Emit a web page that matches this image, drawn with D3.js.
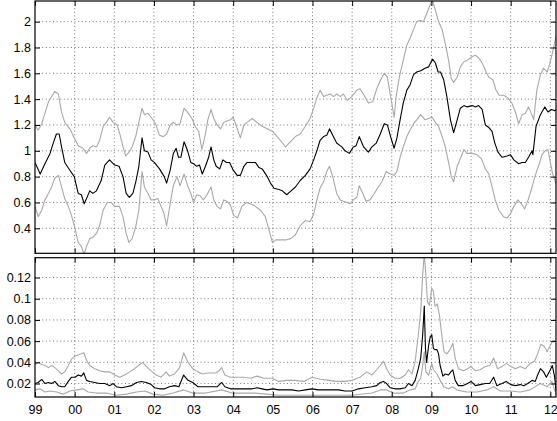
<!DOCTYPE html>
<html>
<head>
<meta charset="utf-8">
<script src="https://cdn.jsdelivr.net/npm/d3@7"></script>
<style>
  body { margin: 0; background: #fff; }
  svg { display: block; font-family: "Liberation Sans", Arial, Helvetica, sans-serif; }
  .grid line { stroke: #555; stroke-dasharray: 1,2.6; stroke-width: 0.8; }
  .ax text { font-size: 12.5px; fill: #000; }
  .ax line { stroke: #000; }
  .ax path { display: none; }
</style>
</head>
<body>
<div id="chart"></div>
<script>
// Etiquetas del eje X (años)
const years = [1999, 2000, 2001, 2002, 2003, 2004, 2005, 2006, 2007, 2008, 2009, 2010, 2011, 2012];
const yearLabels = ["99", "00", "01", "02", "03", "04", "05", "06", "07", "08", "09", "10", "11", "12"];
const topTicks = [0.4, 0.6, 0.8, 1, 1.2, 1.4, 1.6, 1.8, 2];
const botTicks = [0.02, 0.04, 0.06, 0.08, 0.1, 0.12];

// Panel superior: [año, valor]
const topMid = [[1999.00,0.91],[1999.13,0.82],[1999.25,0.90],[1999.38,0.98],[1999.46,1.06],[1999.54,1.13],[1999.61,1.13],[1999.67,1.03],[1999.75,0.91],[1999.88,0.85],[1999.99,0.80],[2000.09,0.67],[2000.17,0.66],[2000.24,0.59],[2000.30,0.63],[2000.38,0.69],[2000.46,0.67],[2000.55,0.69],[2000.67,0.77],[2000.76,0.89],[2000.88,0.93],[2001.01,0.89],[2001.12,0.88],[2001.22,0.80],[2001.30,0.67],[2001.38,0.64],[2001.47,0.67],[2001.55,0.77],[2001.62,0.88],[2001.70,1.10],[2001.76,1.00],[2001.85,0.99],[2001.93,0.93],[2002.01,0.91],[2002.14,0.86],[2002.26,0.80],[2002.32,0.75],[2002.41,0.85],[2002.49,0.98],[2002.56,1.02],[2002.62,0.95],[2002.68,0.95],[2002.76,1.07],[2002.85,1.00],[2002.93,0.91],[2003.00,0.90],[2003.08,0.88],[2003.15,0.89],[2003.22,0.82],[2003.30,0.88],[2003.38,0.95],[2003.44,1.03],[2003.51,0.93],[2003.57,0.88],[2003.66,0.86],[2003.74,0.93],[2003.83,0.91],[2003.91,0.91],[2004.00,0.85],[2004.10,0.81],[2004.18,0.81],[2004.27,0.88],[2004.35,0.91],[2004.48,0.91],[2004.56,0.91],[2004.65,0.87],[2004.73,0.86],[2004.84,0.81],[2004.94,0.75],[2005.03,0.71],[2005.15,0.70],[2005.24,0.69],[2005.35,0.66],[2005.46,0.69],[2005.57,0.72],[2005.69,0.77],[2005.82,0.81],[2005.94,0.86],[2006.03,0.93],[2006.11,1.00],[2006.19,1.08],[2006.28,1.11],[2006.36,1.12],[2006.43,1.17],[2006.51,1.12],[2006.61,1.06],[2006.74,1.03],[2006.82,1.00],[2006.93,0.98],[2007.03,1.03],[2007.10,1.04],[2007.18,1.11],[2007.29,1.03],[2007.41,0.99],[2007.50,1.03],[2007.61,1.06],[2007.71,1.13],[2007.81,1.21],[2007.89,1.20],[2007.97,1.11],[2008.06,1.02],[2008.13,1.10],[2008.21,1.24],[2008.29,1.37],[2008.38,1.47],[2008.46,1.51],[2008.55,1.59],[2008.63,1.61],[2008.73,1.62],[2008.84,1.64],[2008.93,1.65],[2009.03,1.71],[2009.10,1.68],[2009.17,1.61],[2009.23,1.61],[2009.31,1.55],[2009.39,1.42],[2009.48,1.24],[2009.56,1.14],[2009.65,1.24],[2009.73,1.33],[2009.82,1.35],[2009.90,1.34],[2010.03,1.35],[2010.11,1.34],[2010.19,1.35],[2010.28,1.32],[2010.36,1.20],[2010.45,1.18],[2010.53,1.15],[2010.60,1.06],[2010.68,0.99],[2010.78,0.95],[2010.91,0.96],[2010.99,0.97],[2011.08,0.93],[2011.20,0.90],[2011.29,0.91],[2011.37,0.91],[2011.45,0.95],[2011.54,1.00],[2011.56,0.97],[2011.64,1.19],[2011.75,1.28],[2011.86,1.34],[2011.94,1.30],[2012.03,1.32],[2012.11,1.31],[2012.15,1.32]];

const topHigh = [[1999.00,1.20],[1999.08,1.16],[1999.17,1.21],[1999.25,1.29],[1999.34,1.38],[1999.42,1.42],[1999.50,1.46],[1999.59,1.44],[1999.67,1.30],[1999.75,1.22],[1999.88,1.17],[1999.99,1.10],[2000.09,1.04],[2000.21,1.02],[2000.30,0.98],[2000.38,1.02],[2000.46,1.04],[2000.55,1.03],[2000.63,1.08],[2000.72,1.19],[2000.80,1.22],[2000.88,1.26],[2000.97,1.22],[2001.07,1.20],[2001.15,1.12],[2001.22,1.03],[2001.29,0.96],[2001.37,0.99],[2001.45,1.03],[2001.54,1.11],[2001.62,1.22],[2001.70,1.33],[2001.76,1.28],[2001.85,1.29],[2001.93,1.26],[2002.04,1.21],[2002.14,1.12],[2002.24,1.11],[2002.32,1.13],[2002.41,1.20],[2002.49,1.22],[2002.58,1.20],[2002.66,1.21],[2002.76,1.33],[2002.87,1.29],[2002.96,1.25],[2003.04,1.19],[2003.13,1.15],[2003.21,1.01],[2003.30,1.13],[2003.36,1.24],[2003.44,1.32],[2003.51,1.25],[2003.59,1.20],[2003.68,1.17],[2003.76,1.22],[2003.84,1.23],[2003.93,1.24],[2004.00,1.26],[2004.08,1.19],[2004.18,1.10],[2004.27,1.20],[2004.35,1.22],[2004.48,1.25],[2004.60,1.22],[2004.73,1.19],[2004.86,1.17],[2004.99,1.15],[2005.11,1.11],[2005.22,1.07],[2005.32,1.03],[2005.44,1.07],[2005.57,1.11],[2005.69,1.13],[2005.82,1.19],[2005.94,1.25],[2006.03,1.33],[2006.11,1.41],[2006.19,1.47],[2006.28,1.42],[2006.36,1.43],[2006.45,1.44],[2006.53,1.42],[2006.61,1.44],[2006.70,1.42],[2006.78,1.44],[2006.88,1.39],[2006.99,1.42],[2007.12,1.47],[2007.20,1.48],[2007.30,1.43],[2007.41,1.37],[2007.52,1.38],[2007.62,1.48],[2007.72,1.55],[2007.81,1.60],[2007.89,1.57],[2007.96,1.44],[2008.00,1.37],[2008.06,1.26],[2008.11,1.42],[2008.19,1.57],[2008.29,1.70],[2008.38,1.82],[2008.46,1.87],[2008.55,1.94],[2008.63,2.00],[2008.71,2.01],[2008.80,2.00],[2008.85,2.04],[2008.93,2.10],[2009.02,2.17],[2009.10,2.09],[2009.18,2.00],[2009.27,1.94],[2009.35,1.83],[2009.44,1.69],[2009.50,1.56],[2009.56,1.53],[2009.65,1.57],[2009.73,1.65],[2009.82,1.69],[2009.90,1.70],[2010.03,1.73],[2010.11,1.74],[2010.19,1.72],[2010.28,1.68],[2010.38,1.61],[2010.45,1.57],[2010.55,1.55],[2010.63,1.47],[2010.71,1.43],[2010.82,1.43],[2010.93,1.41],[2011.03,1.37],[2011.12,1.30],[2011.20,1.21],[2011.29,1.28],[2011.37,1.29],[2011.45,1.34],[2011.52,1.29],[2011.58,1.24],[2011.66,1.47],[2011.75,1.59],[2011.83,1.64],[2011.92,1.61],[2012.00,1.69],[2012.07,1.78],[2012.15,1.90]];

const topLow = [[1999.00,0.57],[1999.08,0.49],[1999.17,0.54],[1999.25,0.62],[1999.34,0.67],[1999.42,0.72],[1999.50,0.79],[1999.59,0.81],[1999.67,0.72],[1999.75,0.63],[1999.84,0.57],[1999.92,0.50],[2000.00,0.41],[2000.09,0.29],[2000.17,0.26],[2000.24,0.20],[2000.30,0.26],[2000.38,0.32],[2000.46,0.33],[2000.55,0.36],[2000.63,0.42],[2000.72,0.54],[2000.82,0.60],[2000.92,0.60],[2001.01,0.57],[2001.13,0.57],[2001.22,0.49],[2001.30,0.36],[2001.37,0.29],[2001.45,0.32],[2001.54,0.41],[2001.62,0.54],[2001.70,0.84],[2001.76,0.72],[2001.85,0.67],[2001.93,0.62],[2002.01,0.62],[2002.10,0.63],[2002.18,0.57],[2002.25,0.52],[2002.32,0.42],[2002.41,0.59],[2002.49,0.73],[2002.58,0.80],[2002.66,0.73],[2002.76,0.82],[2002.85,0.73],[2002.93,0.67],[2003.00,0.60],[2003.08,0.66],[2003.17,0.65],[2003.25,0.62],[2003.34,0.66],[2003.44,0.72],[2003.51,0.62],[2003.59,0.57],[2003.68,0.55],[2003.76,0.62],[2003.84,0.61],[2003.93,0.58],[2004.01,0.50],[2004.11,0.48],[2004.22,0.57],[2004.33,0.60],[2004.43,0.59],[2004.56,0.57],[2004.69,0.54],[2004.81,0.49],[2004.90,0.39],[2004.99,0.29],[2005.07,0.31],[2005.21,0.31],[2005.32,0.31],[2005.45,0.32],[2005.57,0.35],[2005.69,0.42],[2005.82,0.46],[2005.94,0.45],[2006.03,0.51],[2006.11,0.62],[2006.19,0.71],[2006.28,0.76],[2006.36,0.84],[2006.43,0.88],[2006.51,0.80],[2006.61,0.67],[2006.70,0.62],[2006.78,0.61],[2006.87,0.60],[2006.95,0.59],[2007.03,0.62],[2007.12,0.64],[2007.18,0.73],[2007.27,0.67],[2007.35,0.61],[2007.45,0.62],[2007.54,0.66],[2007.64,0.71],[2007.75,0.76],[2007.86,0.84],[2007.96,0.82],[2008.06,0.81],[2008.13,0.84],[2008.21,0.95],[2008.29,1.03],[2008.38,1.11],[2008.46,1.16],[2008.55,1.21],[2008.63,1.24],[2008.73,1.28],[2008.84,1.24],[2008.93,1.25],[2009.02,1.26],[2009.10,1.22],[2009.18,1.19],[2009.27,1.11],[2009.35,1.03],[2009.44,0.90],[2009.50,0.80],[2009.56,0.76],[2009.65,0.88],[2009.73,0.94],[2009.82,1.01],[2009.90,0.98],[2010.03,0.98],[2010.15,0.97],[2010.26,0.94],[2010.36,0.86],[2010.45,0.82],[2010.53,0.72],[2010.61,0.62],[2010.70,0.54],[2010.82,0.49],[2010.91,0.48],[2010.99,0.51],[2011.08,0.57],[2011.18,0.62],[2011.27,0.59],[2011.35,0.55],[2011.44,0.62],[2011.54,0.72],[2011.62,0.81],[2011.71,0.89],[2011.79,0.97],[2011.87,1.00],[2011.94,1.01],[2012.00,0.91],[2012.06,0.82],[2012.15,0.74]];

// Panel inferior: [año, valor]
const botMid = [[1999.00,0.020],[1999.08,0.021],[1999.17,0.024],[1999.25,0.020],[1999.34,0.021],[1999.42,0.020],[1999.50,0.022],[1999.59,0.018],[1999.67,0.017],[1999.75,0.017],[1999.84,0.022],[1999.92,0.026],[2000.01,0.026],[2000.09,0.028],[2000.17,0.027],[2000.23,0.030],[2000.30,0.023],[2000.38,0.022],[2000.51,0.021],[2000.63,0.020],[2000.76,0.020],[2000.89,0.018],[2000.97,0.020],[2001.05,0.017],[2001.18,0.016],[2001.31,0.017],[2001.43,0.018],[2001.56,0.021],[2001.68,0.022],[2001.81,0.021],[2001.93,0.019],[2002.02,0.016],[2002.14,0.015],[2002.27,0.015],[2002.39,0.017],[2002.52,0.018],[2002.63,0.017],[2002.75,0.028],[2002.86,0.023],[2002.98,0.021],[2003.11,0.017],[2003.23,0.017],[2003.36,0.017],[2003.47,0.017],[2003.60,0.017],[2003.71,0.021],[2003.79,0.017],[2003.93,0.015],[2004.06,0.015],[2004.23,0.015],[2004.35,0.015],[2004.48,0.015],[2004.60,0.016],[2004.73,0.015],[2004.85,0.014],[2005.01,0.015],[2005.15,0.014],[2005.32,0.014],[2005.48,0.014],[2005.65,0.013],[2005.82,0.014],[2005.99,0.015],[2006.15,0.014],[2006.32,0.014],[2006.49,0.014],[2006.66,0.014],[2006.82,0.013],[2007.00,0.013],[2007.16,0.015],[2007.33,0.016],[2007.50,0.017],[2007.62,0.018],[2007.71,0.021],[2007.79,0.022],[2007.87,0.020],[2007.96,0.016],[2008.08,0.015],[2008.21,0.015],[2008.34,0.016],[2008.42,0.020],[2008.51,0.018],[2008.59,0.023],[2008.67,0.034],[2008.73,0.044],[2008.78,0.066],[2008.82,0.093],[2008.85,0.053],[2008.88,0.040],[2008.93,0.056],[2008.97,0.064],[2009.01,0.066],[2009.05,0.053],[2009.09,0.052],[2009.14,0.052],[2009.18,0.048],[2009.22,0.037],[2009.29,0.027],[2009.35,0.029],[2009.43,0.028],[2009.49,0.031],[2009.54,0.033],[2009.60,0.023],[2009.68,0.018],[2009.79,0.018],[2009.91,0.020],[2010.00,0.022],[2010.11,0.018],[2010.23,0.019],[2010.36,0.020],[2010.47,0.020],[2010.57,0.026],[2010.65,0.018],[2010.78,0.020],[2010.89,0.022],[2011.00,0.019],[2011.12,0.018],[2011.24,0.019],[2011.33,0.018],[2011.43,0.020],[2011.54,0.023],[2011.62,0.022],[2011.68,0.028],[2011.75,0.034],[2011.83,0.031],[2011.90,0.026],[2012.00,0.033],[2012.05,0.037],[2012.10,0.028],[2012.15,0.012]];

const botHigh = [[1999.00,0.038],[1999.08,0.040],[1999.17,0.038],[1999.25,0.037],[1999.34,0.035],[1999.42,0.037],[1999.50,0.035],[1999.59,0.032],[1999.67,0.029],[1999.75,0.031],[1999.84,0.037],[1999.92,0.043],[2000.01,0.046],[2000.09,0.047],[2000.17,0.048],[2000.23,0.049],[2000.30,0.042],[2000.38,0.037],[2000.51,0.034],[2000.63,0.032],[2000.76,0.031],[2000.89,0.031],[2001.01,0.028],[2001.14,0.026],[2001.26,0.028],[2001.39,0.031],[2001.51,0.034],[2001.64,0.038],[2001.72,0.040],[2001.81,0.036],[2001.93,0.032],[2002.06,0.028],[2002.18,0.026],[2002.31,0.031],[2002.39,0.027],[2002.52,0.029],[2002.65,0.035],[2002.75,0.049],[2002.86,0.040],[2002.98,0.034],[2003.11,0.031],[2003.23,0.029],[2003.36,0.030],[2003.43,0.030],[2003.56,0.030],[2003.64,0.032],[2003.71,0.035],[2003.79,0.028],[2003.93,0.026],[2004.10,0.026],[2004.27,0.026],[2004.44,0.025],[2004.60,0.027],[2004.77,0.025],[2004.98,0.025],[2005.15,0.022],[2005.36,0.023],[2005.57,0.023],[2005.78,0.022],[2005.99,0.026],[2006.20,0.024],[2006.41,0.023],[2006.62,0.022],[2006.82,0.022],[2007.00,0.023],[2007.20,0.026],[2007.37,0.031],[2007.50,0.028],[2007.62,0.033],[2007.71,0.037],[2007.79,0.041],[2007.87,0.034],[2007.96,0.028],[2008.08,0.025],[2008.21,0.025],[2008.34,0.028],[2008.42,0.033],[2008.51,0.029],[2008.59,0.041],[2008.67,0.066],[2008.73,0.088],[2008.78,0.123],[2008.82,0.142],[2008.86,0.123],[2008.90,0.097],[2008.95,0.094],[2009.01,0.110],[2009.05,0.107],[2009.09,0.093],[2009.15,0.095],[2009.20,0.085],[2009.26,0.066],[2009.32,0.050],[2009.39,0.048],[2009.47,0.052],[2009.54,0.058],[2009.60,0.044],[2009.68,0.034],[2009.81,0.032],[2009.91,0.034],[2010.00,0.036],[2010.11,0.032],[2010.23,0.033],[2010.36,0.036],[2010.47,0.037],[2010.57,0.044],[2010.67,0.034],[2010.78,0.036],[2010.89,0.039],[2011.00,0.036],[2011.12,0.034],[2011.24,0.036],[2011.37,0.034],[2011.49,0.039],[2011.60,0.041],[2011.68,0.048],[2011.76,0.057],[2011.85,0.055],[2011.92,0.050],[2012.00,0.056],[2012.07,0.061],[2012.15,0.060]];

const botLow = [[1999.00,0.014],[1999.13,0.015],[1999.25,0.012],[1999.38,0.013],[1999.55,0.012],[1999.71,0.010],[1999.88,0.013],[2000.05,0.014],[2000.21,0.015],[2000.34,0.012],[2000.55,0.011],[2000.80,0.011],[2001.05,0.009],[2001.31,0.010],[2001.56,0.012],[2001.77,0.013],[2001.98,0.010],[2002.23,0.009],[2002.48,0.011],[2002.75,0.014],[2002.98,0.011],[2003.30,0.011],[2003.71,0.014],[2003.97,0.011],[2004.56,0.011],[2005.15,0.009],[2005.82,0.009],[2006.49,0.009],[2007.00,0.009],[2007.50,0.011],[2007.71,0.014],[2007.87,0.014],[2008.04,0.011],[2008.29,0.011],[2008.46,0.014],[2008.59,0.015],[2008.67,0.022],[2008.73,0.025],[2008.78,0.037],[2008.82,0.050],[2008.86,0.031],[2008.93,0.028],[2009.01,0.039],[2009.05,0.033],[2009.14,0.029],[2009.22,0.023],[2009.31,0.017],[2009.43,0.015],[2009.54,0.017],[2009.64,0.014],[2009.89,0.012],[2010.15,0.012],[2010.40,0.014],[2010.57,0.017],[2010.74,0.013],[2011.00,0.013],[2011.24,0.012],[2011.49,0.014],[2011.75,0.020],[2011.92,0.017],[2012.04,0.022],[2012.15,0.009]];

// Dimensiones
const W = 557, H = 421;
const left = 35, right = 556;
const topPanel = { y0: 1, y1: 253.3, domain: [0.2064, 2.16], ticks: topTicks, id: "clipTop" };
const botPanel = { y0: 257.7, y1: 397, domain: [0.0073, 0.1387], ticks: botTicks, id: "clipBot" };

const svg = d3.select("#chart")
  .append("svg")
  .attr("width", W)
  .attr("height", H);

const xScale = d3.scaleLinear()
  .domain([1999, 2012.143])
  .range([left, right]);

function drawPanel(p, series, showX) {
  const yScale = d3.scaleLinear().domain(p.domain).range([p.y1, p.y0]);

  svg.append("clipPath").attr("id", p.id)
    .append("rect")
    .attr("x", left).attr("y", p.y0)
    .attr("width", right - left).attr("height", p.y1 - p.y0);

  // Rejilla punteada
  const grid = svg.append("g").attr("class", "grid");
  grid.selectAll(".gx").data(years.slice(1))
    .enter().append("line")
    .attr("x1", d => xScale(d)).attr("x2", d => xScale(d))
    .attr("y1", p.y0).attr("y2", p.y1);
  grid.selectAll(".gy").data(p.ticks)
    .enter().append("line")
    .attr("x1", left).attr("x2", right)
    .attr("y1", d => yScale(d)).attr("y2", d => yScale(d));

  // Series
  const line = d3.line()
    .x(d => xScale(d[0]))
    .y(d => yScale(d[1]));

  const g = svg.append("g").attr("clip-path", `url(#${p.id})`);
  series.forEach(s => {
    g.append("path")
      .datum(s.data)
      .attr("fill", "none")
      .attr("stroke", s.color)
      .attr("stroke-width", s.w)
      .attr("stroke-linejoin", "round")
      .attr("d", line);
  });

  // Ejes con marcas hacia dentro
  const yAxis = d3.axisLeft(yScale).tickValues(p.ticks).tickSize(-5).tickPadding(4).tickFormat(d => String(d));
  svg.append("g").attr("class", "ax")
    .attr("transform", `translate(${left},0)`)
    .call(yAxis);
  svg.append("g").attr("class", "ax")
    .attr("transform", `translate(${right},0)`)
    .call(d3.axisRight(yScale).tickValues(p.ticks).tickSize(-5).tickFormat(""));
  svg.append("g").attr("class", "ax")
    .attr("transform", `translate(0,${p.y0})`)
    .call(d3.axisTop(xScale).tickValues(years).tickSize(-5).tickFormat(""));

  const xAxis = d3.axisBottom(xScale).tickValues(years).tickSize(-5).tickPadding(8)
    .tickFormat((d, i) => showX ? yearLabels[i] : "");
  svg.append("g").attr("class", "ax")
    .attr("transform", `translate(0,${p.y1})`)
    .call(xAxis);

  // Marco
  svg.append("rect")
    .attr("x", left).attr("y", p.y0)
    .attr("width", right - left).attr("height", p.y1 - p.y0)
    .attr("fill", "none")
    .attr("stroke", "#000")
    .attr("stroke-width", 1.2);
}

drawPanel(topPanel, [
  { data: topHigh, color: "#a8a8a8", w: 1.1 },
  { data: topLow, color: "#a8a8a8", w: 1.1 },
  { data: topMid, color: "#000", w: 1.1 }
], false);

drawPanel(botPanel, [
  { data: botHigh, color: "#a8a8a8", w: 1.1 },
  { data: botLow, color: "#a8a8a8", w: 1.1 },
  { data: botMid, color: "#000", w: 1.1 }
], true);
</script>
</body>
</html>
